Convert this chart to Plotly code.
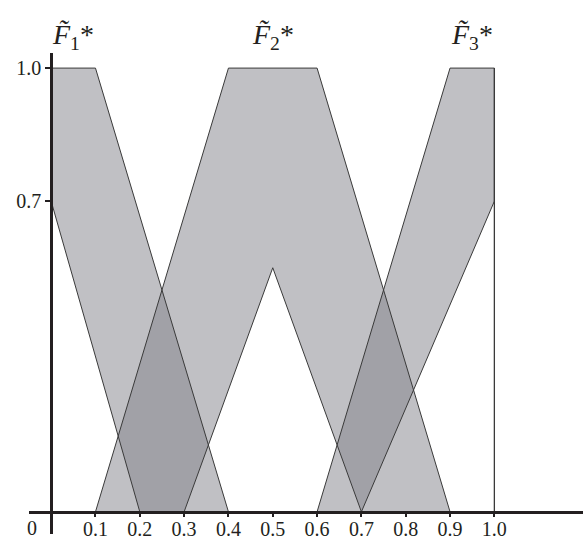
import plotly.graph_objects as go

# membership functions of the three fuzzy sets (upper and lower bounds)
f1_upper_x = [0.0, 0.1, 0.4]
f1_upper_y = [1.0, 1.0, 0.0]
f1_lower_x = [0.0, 0.2]
f1_lower_y = [0.7, 0.0]

f2_upper_x = [0.1, 0.4, 0.6, 0.9]
f2_upper_y = [0.0, 1.0, 1.0, 0.0]
f2_lower_x = [0.3, 0.5, 0.7]
f2_lower_y = [0.0, 0.55, 0.0]

f3_upper_x = [0.6, 0.9, 1.0]
f3_upper_y = [0.0, 1.0, 1.0]
f3_lower_x = [0.7, 1.0]
f3_lower_y = [0.0, 0.7]

set_labels = ["<i>F\u0303</i><sub>1</sub>*", "<i>F\u0303</i><sub>2</sub>*", "<i>F\u0303</i><sub>3</sub>*"]
label_x = [0.05, 0.5, 0.95]

x_ticks = [0.1, 0.2, 0.3, 0.4, 0.5, 0.6, 0.7, 0.8, 0.9, 1.0]
x_ticktext = ["0.1", "0.2", "0.3", "0.4", "0.5", "0.6", "0.7", "0.8", "0.9", "1.0"]
y_ticks = [0.7, 1.0]
y_ticktext = ["0.7", "1.0"]

X_RANGE = [-0.05, 1.2]
Y_RANGE = [-0.05, 1.034]
FILL = "rgba(129,130,137,0.5)"
EDGE = "#3a3a3a"
AXIS = "#231f20"
FONT = "Liberation Serif"

sets = [
    (f1_upper_x, f1_upper_y, f1_lower_x, f1_lower_y),
    (f2_upper_x, f2_upper_y, f2_lower_x, f2_lower_y),
    (f3_upper_x, f3_upper_y, f3_lower_x, f3_lower_y),
]

fig = go.Figure()
polys = []
for ux, uy, lx, ly in sets:
    px = ux + lx[::-1] + [ux[0]]
    py = uy + ly[::-1] + [uy[0]]
    polys.append((px, py))
    fig.add_trace(go.Scatter(x=px, y=py, mode="lines", fill="toself",
                             fillcolor=FILL, line=dict(width=0),
                             hoverinfo="skip"))
for px, py in polys:
    fig.add_trace(go.Scatter(x=px, y=py, mode="lines",
                             line=dict(color=EDGE, width=1), hoverinfo="skip"))

# vertical line at the end of the support
fig.add_trace(go.Scatter(x=[f3_upper_x[-1], f3_upper_x[-1]], y=[0, f3_upper_y[-1]],
                         mode="lines", line=dict(color=EDGE, width=1.3),
                         hoverinfo="skip"))

for txt, lx in zip(set_labels, label_x):
    fig.add_annotation(x=lx, xref="x", y=1.035, yref="paper", text=txt,
                       showarrow=False, yanchor="middle",
                       font=dict(family=FONT, size=28, color="#231f20"))

fig.add_annotation(x=-0.043, y=-0.036, text="0", showarrow=False,
                   font=dict(family=FONT, size=20, color="#231f20"),
                   yanchor="middle")

fig.update_layout(
    width=587, height=539,
    margin=dict(l=29, r=4, t=53, b=5, autoexpand=False),
    plot_bgcolor="white", paper_bgcolor="white",
    showlegend=False,
    font=dict(family=FONT, size=20, color="#231f20"),
    xaxis=dict(range=X_RANGE, showgrid=False, zeroline=False, automargin=False,
               anchor="free", position=(0 - Y_RANGE[0]) / (Y_RANGE[1] - Y_RANGE[0]),
               showline=True, linecolor=AXIS, linewidth=3,
               tickvals=x_ticks, ticktext=x_ticktext,
               ticks="outside", ticklen=3, tickwidth=1.5, tickcolor=AXIS,
               ticklabelstandoff=-5),
    yaxis=dict(range=Y_RANGE, showgrid=False, zeroline=False, automargin=False,
               anchor="free", position=(0 - X_RANGE[0]) / (X_RANGE[1] - X_RANGE[0]),
               showline=True, linecolor=AXIS, linewidth=3,
               tickvals=y_ticks, ticktext=y_ticktext,
               ticks="outside", ticklen=5, tickwidth=2, tickcolor=AXIS),
)

fig.write_html("out.html", config={"displayModeBar": False},
               post_script="document.body.style.margin = '0';")
